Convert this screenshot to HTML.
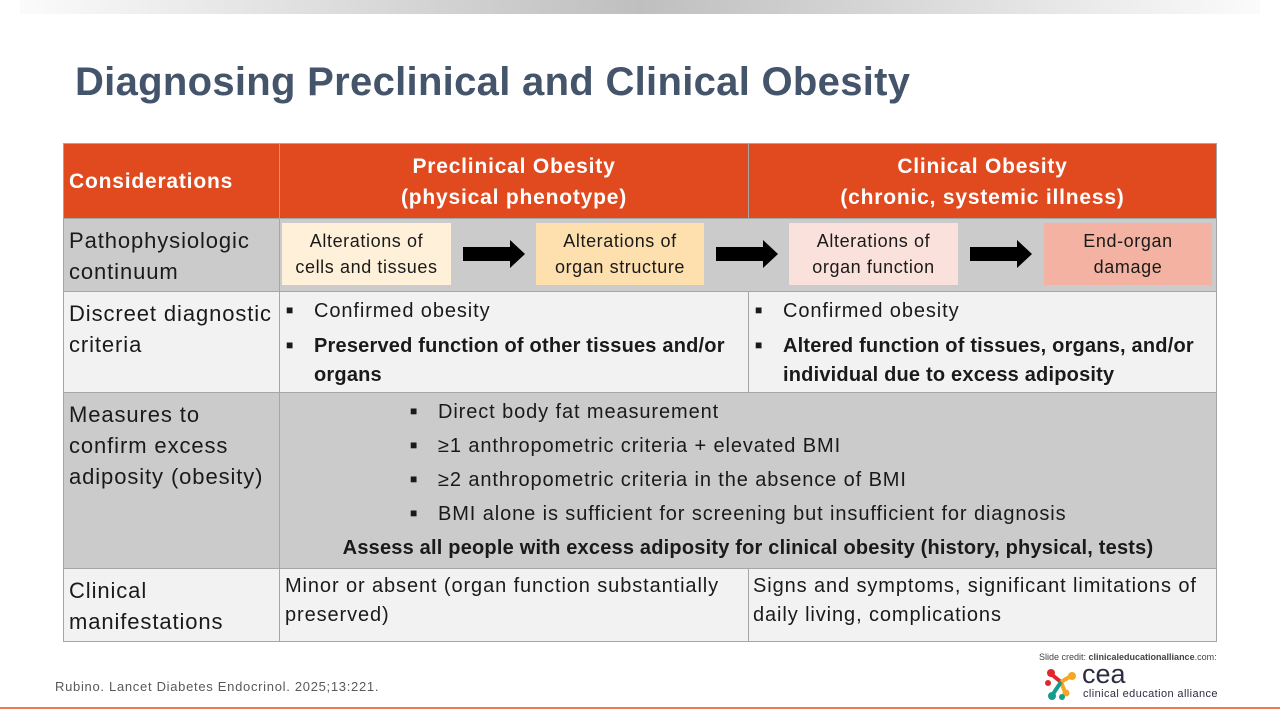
<!DOCTYPE html>
<html><head><meta charset="utf-8"><style>
*{margin:0;padding:0;box-sizing:border-box}
body{width:1280px;height:720px;background:#fff;position:relative;overflow:hidden;font-family:"Liberation Sans",sans-serif;color:#1a1a1a}
.a{position:absolute}
.top{left:20px;top:0;width:1240px;height:14px;background:linear-gradient(90deg,#fbfbfb,#bfbfbf 50%,#fbfbfb)}
h1{position:absolute;left:75px;top:60px;font-size:40px;font-weight:bold;color:#44546a;letter-spacing:0.3px;white-space:nowrap}
.cell{position:absolute;border:1px solid #a6a6a6}
.hd{background:#e04a1e;color:#fff;font-weight:bold;font-size:21px;text-align:center;line-height:31px;letter-spacing:0.8px}
.g{background:#cbcbcc}.l{background:#f2f2f2}
.lab{font-size:22px;line-height:31px;padding:7px 0 0 5px;letter-spacing:0.9px;white-space:nowrap}
.box{position:absolute;top:223px;height:62px;font-size:18px;text-align:center;line-height:26px;padding-top:5px;letter-spacing:0.6px;white-space:nowrap}
.arr{position:absolute;top:240px;width:62px;height:28px}
.b{font-size:20px;line-height:29px;position:absolute;letter-spacing:0.9px;white-space:nowrap}
.b.bo{font-weight:bold;letter-spacing:0.2px}
.b span{display:inline-block;width:32px;font-size:12px;vertical-align:3px;padding-left:4px;letter-spacing:0}
</style></head><body>
<div class="a top"></div>
<h1>Diagnosing Preclinical and Clinical Obesity</h1>
<div class="cell hd" style="left:63px;top:143px;width:217px;height:76px;text-align:left;padding:22px 0 0 5px">Considerations</div>
<div class="cell hd" style="left:279px;top:143px;width:470px;height:76px;padding-top:7px">Preclinical Obesity<br>(physical phenotype)</div>
<div class="cell hd" style="left:748px;top:143px;width:469px;height:76px;padding-top:7px">Clinical Obesity<br>(chronic, systemic illness)</div>

<div class="cell g lab" style="left:63px;top:218px;width:217px;height:74px;padding-top:6px">Pathophysiologic<br>continuum</div>
<div class="cell g" style="left:279px;top:218px;width:938px;height:74px"></div>
<div class="box" style="left:282px;width:169px;background:#fff0da">Alterations of<br>cells and tissues</div>
<div class="box" style="left:536px;width:168px;background:#fde0ae">Alterations of<br>organ structure</div>
<div class="box" style="left:789px;width:169px;background:#fbe1dc">Alterations of<br>organ function</div>
<div class="box" style="left:1044px;width:168px;background:#f4b3a2">End-organ<br>damage</div>
<svg class="arr" style="left:463px" viewBox="0 0 62 28"><polygon points="0,7 47,7 47,0 62,14 47,28 47,21 0,21" fill="#000"/></svg>
<svg class="arr" style="left:716px" viewBox="0 0 62 28"><polygon points="0,7 47,7 47,0 62,14 47,28 47,21 0,21" fill="#000"/></svg>
<svg class="arr" style="left:970px" viewBox="0 0 62 28"><polygon points="0,7 47,7 47,0 62,14 47,28 47,21 0,21" fill="#000"/></svg>

<div class="cell l lab" style="left:63px;top:291px;width:217px;height:102px;padding-top:6px">Discreet diagnostic<br>criteria</div>
<div class="cell l" style="left:279px;top:291px;width:470px;height:102px"></div>
<div class="cell l" style="left:748px;top:291px;width:469px;height:102px"></div>
<div class="b" style="left:282px;top:296px"><span>■</span>Confirmed obesity</div>
<div class="b bo" style="left:282px;top:331px"><span>■</span>Preserved function of other tissues and/or<br><span></span>organs</div>
<div class="b" style="left:751px;top:296px"><span>■</span>Confirmed obesity</div>
<div class="b bo" style="left:751px;top:331px"><span>■</span>Altered function of tissues, organs, and/or<br><span></span>individual due to excess adiposity</div>

<div class="cell g lab" style="left:63px;top:392px;width:217px;height:177px;padding-top:6px">Measures to<br>confirm excess<br>adiposity (obesity)</div>
<div class="cell g" style="left:279px;top:392px;width:938px;height:177px"></div>
<div class="b" style="left:406px;top:397px"><span>■</span>Direct body fat measurement</div>
<div class="b" style="left:406px;top:431px"><span>■</span>≥1 anthropometric criteria + elevated BMI</div>
<div class="b" style="left:406px;top:465px"><span>■</span>≥2 anthropometric criteria in the absence of BMI</div>
<div class="b" style="left:406px;top:499px"><span>■</span>BMI alone is sufficient for screening but insufficient for diagnosis</div>
<div class="b bo" style="left:279px;width:938px;top:534px;text-align:center">Assess all people with excess adiposity for clinical obesity (history, physical, tests)</div>

<div class="cell l lab" style="left:63px;top:568px;width:217px;height:74px;padding-top:6px">Clinical<br>manifestations</div>
<div class="cell l" style="left:279px;top:568px;width:470px;height:74px"></div>
<div class="cell l" style="left:748px;top:568px;width:469px;height:74px"></div>
<div class="b" style="left:285px;top:572px">Minor or absent (organ function substantially<br>preserved)</div>
<div class="b" style="left:753px;top:572px">Signs and symptoms, significant limitations of<br>daily living, complications</div>

<div class="a" style="left:55px;top:679px;font-size:13px;color:#595959;letter-spacing:0.7px">Rubino. Lancet Diabetes Endocrinol. 2025;13:221.</div>
<div class="a" style="left:1039px;top:652px;font-size:9px;color:#444">Slide credit: <b>clinicaleducationalliance</b>.com:</div>
<svg class="a" style="left:1043px;top:666px" width="36" height="36" viewBox="0 0 36 36">
<line x1="8" y1="8" x2="18" y2="16" stroke="#e3262c" stroke-width="4"/><line x1="18" y1="16" x2="28" y2="10" stroke="#f5a623" stroke-width="4"/><line x1="18" y1="16" x2="22" y2="26" stroke="#f5a623" stroke-width="4"/><line x1="18" y1="16" x2="10" y2="28" stroke="#169c8c" stroke-width="4"/>
<circle cx="8" cy="7" r="4" fill="#e3262c"/><circle cx="5" cy="17" r="3" fill="#e3262c"/><circle cx="29" cy="10" r="4" fill="#f5a623"/><circle cx="23" cy="27" r="3.5" fill="#f5a623"/><circle cx="9" cy="30" r="4" fill="#169c8c"/><circle cx="19" cy="31" r="3" fill="#169c8c"/></svg>
<div class="a" style="left:1082px;top:660px;font-size:27px;color:#2b2d42;line-height:28px">cea</div>
<div class="a" style="left:1083px;top:688px;font-size:11px;color:#2b2d42;letter-spacing:0.4px">clinical education alliance</div>
<div class="a" style="left:0;top:707px;width:1280px;height:2px;background:#ec7a55"></div>
</body></html>
